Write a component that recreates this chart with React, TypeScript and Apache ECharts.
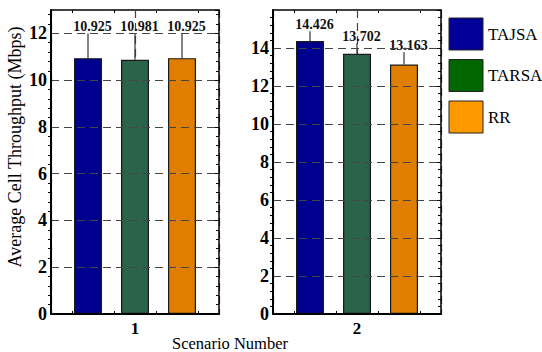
import React, { useEffect, useRef } from "react";
import * as echarts from "echarts";

const scenarios = ["1", "2"];
const seriesNames = ["TAJSA", "TARSA", "RR"];
const barColors = ["#00008F", "#2B634A", "#DF7E00"];
const legendColors = ["#000099", "#006600", "#FF9900"];
// bar heights per scenario (TAJSA, TARSA, RR)
const values1 = [10.94, 10.87, 10.94];
const values2 = [14.37, 13.7, 13.13];
// top of error bars
const errTop1 = [12.0, 12.0, 12.0];
const errTop2 = [14.88, 14.25, 13.77];
// value labels
const labels1 = ["10.925", "10.981", "10.925"];
const labels2 = ["14.426", "13.702", "13.163"];
const yMax = [13, 16];
const yAxisName = "Average Cell Throughput (Mbps)";
const xAxisName = "Scenario Number";

const FONT = "Liberation Serif";
const BAR_W = 28;
const GAP = 19;

export default function App() {
  const ref = useRef<HTMLDivElement>(null);
  useEffect(() => {
    if (!ref.current) return;
    const chart = echarts.init(ref.current, undefined, { renderer: "svg" });
    const panels = [
      { left: 51, values: values1, err: errTop1, labels: labels1 },
      { left: 273, values: values2, err: errTop2, labels: labels2 },
    ];
    const grid: any[] = [];
    const xAxis: any[] = [];
    const yAxis: any[] = [];
    const series: any[] = [];
    panels.forEach((p, i) => {
      grid.push({ left: p.left, top: 10, width: 168, height: 304, show: false });
      xAxis.push({
        type: "category",
        gridIndex: i,
        data: [scenarios[i]],
        axisLine: { show: true, lineStyle: { color: "#000", width: 2 } },
        axisTick: { show: false },
        axisLabel: { color: "#000", fontFamily: FONT, fontWeight: "bold", fontSize: 17, margin: 6 },
        splitLine: { show: false },
        z: 5,
      });
      xAxis.push({
        type: "category",
        gridIndex: i,
        position: "bottom",
        data: ["a", "b", "c", "d"],
        axisLine: { show: false },
        axisTick: { show: true, inside: true, alignWithLabel: true, length: 3, lineStyle: { color: "#000", width: 1 } },
        axisLabel: { show: false },
        splitLine: { show: false },
      });
      xAxis.push({
        type: "category",
        gridIndex: i,
        position: "top",
        data: ["a", "b", "c", "d"],
        axisLine: { show: true, lineStyle: { color: "#000", width: 1.5 } },
        axisTick: { show: true, inside: true, alignWithLabel: true, length: 3, lineStyle: { color: "#000", width: 1 } },
        axisLabel: { show: false },
        splitLine: { show: false },
      });
      xAxis.push({
        type: "category",
        gridIndex: i,
        position: "bottom",
        data: ["a", "b"],
        axisLine: { show: false },
        axisTick: { show: false },
        axisLabel: { show: false },
        splitLine: { show: true, lineStyle: { color: "#444", type: [8, 5], width: 1.2 } },
      });
      yAxis.push({
        type: "value",
        gridIndex: i,
        min: 0,
        max: yMax[i],
        interval: 2,
        axisLine: { show: true, lineStyle: { color: "#000", width: 2 } },
        axisTick: { show: false },
        minorTick: { show: true, splitNumber: 5, length: 3, lineStyle: { color: "#000", width: 1 } },
        axisLabel: {
          color: "#000",
          fontFamily: FONT,
          fontWeight: "bold",
          fontSize: 18,
          margin: 4,
          showMaxLabel: false,
        },
        splitLine: { show: true, lineStyle: { color: "#444", type: [8, 5], width: 1.2 } },
        z: 5,
      });
      yAxis.push({
        type: "value",
        gridIndex: i,
        position: "right",
        min: 0,
        max: yMax[i],
        interval: 2,
        axisLine: { show: true, lineStyle: { color: "#000", width: 1.5 } },
        axisTick: { show: true, inside: true, length: 4, lineStyle: { color: "#000", width: 1 } },
        minorTick: { show: true, splitNumber: 5, length: 3, lineStyle: { color: "#000", width: 1 } },
        axisLabel: { show: false },
        splitLine: { show: false },
      });
      const xi = i * 4;
      const yi = i * 2;
      seriesNames.forEach((name, k) => {
        series.push({
          type: "bar",
          name,
          xAxisIndex: xi,
          yAxisIndex: yi,
          barWidth: BAR_W,
          barGap: (GAP / BAR_W) * 100 + "%",
          data: [p.values[k]],
          itemStyle: { color: barColors[k], borderColor: "#1a1a1a", borderWidth: 1.2 },
          z: 3,
        });
      });
      const errData = seriesNames.map((_, k) => [0, p.values[k], p.err[k], k]);
      series.push({
        type: "custom",
        xAxisIndex: xi,
        yAxisIndex: yi,
        data: errData,
        encode: { x: 0, y: 2 },
        z: 4,
        renderItem: (params: any, api: any) => {
          const k = api.value(3);
          const base = api.coord([api.value(0), api.value(1)]);
          const top = api.coord([api.value(0), api.value(2)]);
          const x = base[0] + (k - 1) * (BAR_W + GAP);
          return {
            type: "group",
            children: [
              {
                type: "line",
                shape: { x1: x, y1: base[1], x2: x, y2: top[1] },
                style: { stroke: "#333", lineWidth: 1.2 },
              },
              {
                type: "text",
                x: x + 4.5,
                y: top[1],
                style: {
                  text: p.labels[params.dataIndex],
                  fontFamily: FONT,
                  fontWeight: "bold",
                  fontSize: 14,
                  fill: "#111",
                  align: "center",
                  verticalAlign: "bottom",
                },
              },
            ],
          };
        },
      });
    });

    const graphic: any[] = [];
    seriesNames.forEach((name, k) => {
      const y = 18 + k * 41.5;
      graphic.push({
        type: "rect",
        shape: { x: 449, y, width: 34, height: 32 },
        style: { fill: legendColors[k], stroke: "#222", lineWidth: 1 },
      });
      graphic.push({
        type: "text",
        x: 488,
        y: y + 16,
        style: {
          text: name,
          fontFamily: FONT,
          fontSize: 17,
          fill: "#000",
          verticalAlign: "middle",
          align: "left",
        },
      });
    });
    graphic.push({
      type: "text",
      x: 230,
      y: 343,
      style: {
        text: xAxisName,
        fontFamily: FONT,
        fontSize: 16.5,
        fill: "#000",
        align: "center",
        verticalAlign: "middle",
      },
    });
    graphic.push({
      type: "text",
      x: 15,
      y: 147,
      rotation: Math.PI / 2,
      style: {
        text: yAxisName,
        fontFamily: FONT,
        fontSize: 18,
        fill: "#000",
        align: "center",
        verticalAlign: "middle",
      },
    });

    chart.setOption({
      animation: false,
      backgroundColor: "#fff",
      grid,
      xAxis,
      yAxis,
      series,
      graphic,
    });
    return () => chart.dispose();
  }, []);
  return (
    <div
      ref={ref}
      style={{ position: "fixed", left: 0, top: 0, width: 542, height: 352 }}
    />
  );
}
